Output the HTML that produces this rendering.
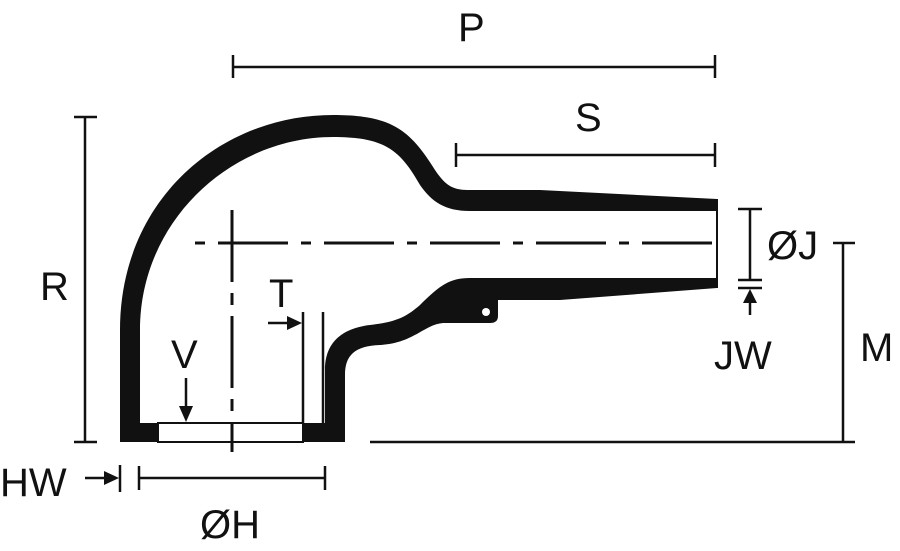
<!DOCTYPE html>
<html><head><style>body{margin:0;background:#fff}svg{display:block}text{font-family:"Liberation Sans",sans-serif;font-size:40px;fill:#111}</style></head>
<body>
<svg width="900" height="551" viewBox="0 0 900 551" xmlns="http://www.w3.org/2000/svg">
<g fill="#111">
<path d="M120,442 L120,330 C120,200 220,115 333,115 C392,115 410,130 435,170 C447,188 455,190 470,190 L540,190 L717,199 L717,211 L470,211 C445,211 432,202 420,185 C400,150 385,137 333,137 C232,137 140,220 140,330 L140,423 L158,423 L158,442 Z"/>
<path d="M717,278 L717,288 L560,300 L498,300 L498,316 Q498,323 490,323 L445,323 C425,323 415,343 380,345 C355,346 345,355 345,375 L345,442 L303,442 L303,423 L325,423 L325,370 C325,340 345,328 370,325 C395,322 405,318 420,305 C440,285 450,278 470,278 Z"/>
</g>
<circle cx="486" cy="312" r="4" fill="#fff"/>
<g stroke="#111" stroke-width="2.5" fill="none">
<rect x="158" y="423" width="145" height="19" stroke-width="2"/>
<line x1="717" y1="199" x2="717" y2="288" stroke-width="2"/>
<line x1="195" y1="243" x2="722" y2="243" stroke-dasharray="10,13,70,13" stroke-width="3"/>
<line x1="232" y1="210" x2="232" y2="452" stroke-dasharray="72,11,12,11" stroke-width="3"/>
<line x1="233" y1="67" x2="715" y2="67"/><line x1="233" y1="55" x2="233" y2="78"/><line x1="715" y1="55" x2="715" y2="78"/>
<line x1="456" y1="155" x2="715" y2="155"/><line x1="456" y1="143" x2="456" y2="167"/><line x1="715" y1="143" x2="715" y2="167"/>
<line x1="85" y1="117" x2="85" y2="442"/><line x1="74" y1="117" x2="97" y2="117"/><line x1="74" y1="442" x2="97" y2="442"/>
<line x1="843" y1="243" x2="843" y2="442"/><line x1="833" y1="243" x2="855" y2="243"/>
<line x1="370" y1="442" x2="855" y2="442"/>
<line x1="750" y1="209" x2="750" y2="280"/><line x1="738" y1="209" x2="762" y2="209"/><line x1="738" y1="280" x2="762" y2="280"/><line x1="738" y1="288" x2="762" y2="288"/>
<line x1="750" y1="300" x2="750" y2="315"/>
<line x1="303" y1="312" x2="303" y2="423"/><line x1="323" y1="312" x2="323" y2="423"/>
<line x1="268" y1="323" x2="288" y2="323"/>
<line x1="186" y1="378" x2="186" y2="408"/>
<line x1="85" y1="478" x2="108" y2="478"/><line x1="120" y1="465" x2="120" y2="492"/>
<line x1="139" y1="478" x2="325" y2="478"/><line x1="139" y1="466" x2="139" y2="490"/><line x1="325" y1="466" x2="325" y2="490"/>
</g>
<g fill="#111">
<polygon points="750,289 743,303 757,303"/>
<polygon points="302,323 287,316 287,330"/>
<polygon points="186,422 179,406 193,406"/>
<polygon points="119,478 104,471 104,485"/>
</g>
<text x="458" y="41">P</text>
<text x="575" y="131">S</text>
<text x="40" y="300">R</text>
<text x="860" y="361">M</text>
<text x="767" y="259">ØJ</text>
<text x="714" y="369">JW</text>
<text x="269" y="307">T</text>
<text x="171" y="368">V</text>
<text x="0" y="496">HW</text>
<text x="200" y="538">ØH</text>
</svg>
</body></html>
